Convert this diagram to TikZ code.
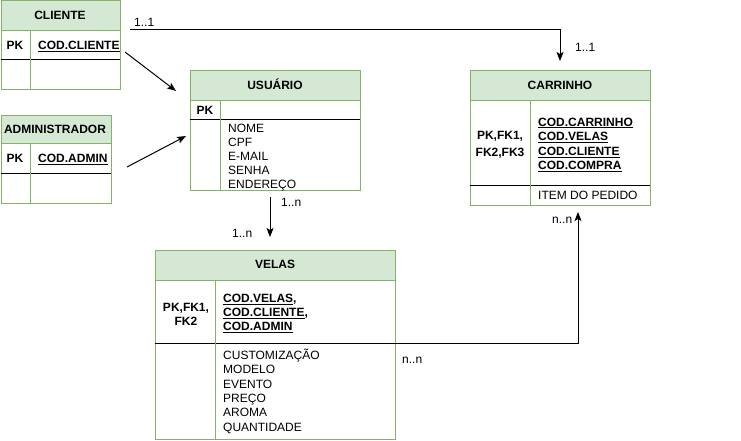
\documentclass[tikz,border=0pt]{standalone}
\usepackage{fontspec}
\setmainfont{Liberation Sans}
\usetikzlibrary{arrows.meta}
\definecolor{gfill}{HTML}{D5E8D4}
\definecolor{gline}{HTML}{82B366}
\begin{document}
\begin{tikzpicture}[x=1pt,y=-1pt,
  font=\fontsize{12}{14}\selectfont,
  frame/.style={draw=gline, fill=white, line width=1pt, inner sep=0pt, anchor=north west},
  head/.style={draw=gline, fill=gfill, line width=1pt, inner sep=0pt, anchor=north west},
  sep/.style={draw=black, line width=1pt},
  div/.style={draw=gline, line width=1pt},
  txt/.style={inner sep=0pt, anchor=base west},
  key/.style={inner sep=0pt, anchor=base west, font=\fontsize{12}{14}\selectfont\bfseries},
  ctr/.style={inner sep=0pt, anchor=base, font=\fontsize{12}{14}\selectfont\bfseries},
  conn/.style={draw=black, line width=1pt, -{Stealth[length=9pt,width=7pt,inset=2pt]}},
]
\useasboundingbox (0,0) rectangle (741,441);
\fill[white] (0,0) rectangle (741,441);

% ---------- CLIENTE ----------
\node[frame, minimum width=119pt, minimum height=89pt] (cliente) at (0.5,0.5) {};
\draw[sep] (0.5,60) -- (119.5,60);
\draw[div] (30,30) -- (30,89.5);
\node[head, minimum width=119pt, minimum height=29.5pt] (clienteH) at (0.5,0.5) {};
\node[ctr] (clienteT) at (60,19.3) {CLIENTE};
\node[ctr] (clientePK) at (15,49.3) {PK};
\node[key] (clienteK) at (38,49.3) {\underline{COD.CLIENTE}};

% ---------- ADMINISTRADOR ----------
\node[frame, minimum width=110pt, minimum height=88pt] (admin) at (0.5,115) {};
\draw[sep] (0.5,173) -- (110.5,173);
\draw[div] (30,143) -- (30,203);
\node[head, minimum width=110pt, minimum height=28pt] (adminH) at (0.5,115) {};
\node[ctr] (adminT) at (55,133.3) {ADMINISTRADOR};
\node[ctr] (adminPK) at (15,162.3) {PK};
\node[key] (adminK) at (38,162.3) {\underline{COD.ADMIN}};

% ---------- USUARIO ----------
\node[frame, minimum width=170pt, minimum height=120pt] (usuario) at (190,70) {};
\draw[sep] (190,120) -- (360,120);
\draw[div] (220,100) -- (220,190);
\node[head, minimum width=170pt, minimum height=30pt] (usuarioH) at (190,70) {};
\node[ctr] (usuarioT) at (275,89.3) {USUÁRIO};
\node[ctr] (usuarioPK) at (205,114.3) {PK};
\foreach \t [count=\i] in {NOME,CPF,E-MAIL,SENHA,ENDEREÇO}
  \node[txt] (u\i) at (228,{132.3+14*(\i-1)}) {\t};

% ---------- CARRINHO ----------
\node[frame, minimum width=180pt, minimum height=135pt] (carrinho) at (470,70) {};
\draw[sep] (470,185) -- (650,185);
\draw[div] (530,100) -- (530,205);
\node[head, minimum width=180pt, minimum height=30pt] (carrinhoH) at (470,70) {};
\node[ctr] (carrinhoT) at (560,89.3) {CARRINHO};
\node[ctr] (carrinhoPK1) at (500,139.3) {PK,FK1,};
\node[ctr] (carrinhoPK2) at (500,156) {FK2,FK3};
\node[key] (c1) at (538,126) {\underline{COD.CARRINHO}};
\node[key] (c2) at (538,140.5) {\underline{COD.VELAS}};
\node[key] (c3) at (538,155.3) {\underline{COD.CLIENTE}};
\node[key] (c4) at (538,169.5) {\underline{COD.COMPRA}};
\node[txt] (c5) at (538,199.3) {ITEM DO PEDIDO};

% ---------- VELAS ----------
\node[frame, minimum width=240pt, minimum height=189pt] (velas) at (155,250) {};
\draw[sep] (155,343) -- (395,343);
\draw[div] (215,280) -- (215,439);
\node[head, minimum width=240pt, minimum height=30pt] (velasH) at (155,250) {};
\node[ctr] (velasT) at (275,268.3) {VELAS};
\node[ctr] (velasPK1) at (186,311) {PK,FK1,};
\node[ctr] (velasPK2) at (186,325.6) {FK2};
\node[key] (v1) at (223,302.6) {\underline{COD.VELAS},};
\node[key] (v2) at (223,316.3) {\underline{COD.CLIENTE},};
\node[key] (v3) at (223,330.3) {\underline{COD.ADMIN}};
\foreach \t [count=\i] in {CUSTOMIZAÇÃO,MODELO,EVENTO,PREÇO,AROMA,QUANTIDADE}
  \node[txt] (w\i) at (223,{359.3+14.35*(\i-1)}) {\t};

% ---------- connectors ----------
\coordinate (a1s) at (130,30);
\coordinate (a1e) at (560,61);
\draw[conn] (a1s) -| (a1e);
\node[txt] (l1) at (134,26.8) {1..1};
\node[txt] (l2) at (575,51.8) {1..1};

\coordinate (a2s) at (125,52);
\coordinate (a2e) at (176,91);
\draw[conn] (a2s) -- (a2e);

\coordinate (a3s) at (127,167);
\coordinate (a3e) at (186,136);
\draw[conn] (a3s) -- (a3e);

\coordinate (a4s) at (270,197);
\coordinate (a4e) at (270,237);
\draw[conn] (a4s) -- (a4e);
\node[txt] (l3) at (281,206) {1..n};
\node[txt] (l4) at (232,237) {1..n};

\coordinate (a5s) at (395,343);
\coordinate (a5e) at (578,212);
\draw[conn] (a5s) -| (a5e);
\node[txt] (l5) at (552,223.5) {n..n};
\node[txt] (l6) at (402,363.5) {n..n};
\end{tikzpicture}
\end{document}
